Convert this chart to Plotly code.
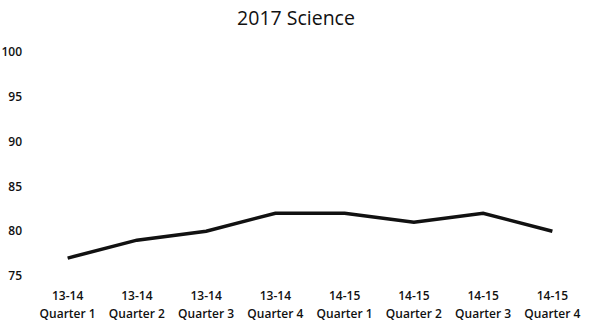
import plotly.graph_objects as go

years = ["13-14", "13-14", "13-14", "13-14", "14-15", "14-15", "14-15", "14-15"]
quarters = ["Quarter 1", "Quarter 2", "Quarter 3", "Quarter 4",
            "Quarter 1", "Quarter 2", "Quarter 3", "Quarter 4"]
scores = [77, 79, 80, 82, 82, 81, 82, 80]
y_ticks = [75, 80, 85, 90, 95, 100]

idx = list(range(len(scores)))

fig = go.Figure()
fig.add_trace(go.Scatter(x=idx, y=scores, mode="lines",
                         line=dict(color="#111111", width=3.5), showlegend=False))
# invisible companion trace so the second (quarter-label) axis is drawn
fig.add_trace(go.Scatter(x=idx, y=scores, xaxis="x2", mode="lines", opacity=0,
                         line=dict(width=0), hoverinfo="skip", showlegend=False))

tick_font = dict(size=12, family="Open Sans", color="#111111", weight=600)
common_x = dict(tickmode="array", tickvals=idx, range=[-0.5, len(scores) - 0.5],
                showgrid=False, zeroline=False, showline=False, ticks="",
                automargin=False, tickfont=tick_font)

fig.update_layout(
    width=592, height=322,
    margin=dict(l=33, r=5, t=52, b=46, autoexpand=False),
    paper_bgcolor="white", plot_bgcolor="white",
    title=dict(text="2017 Science", x=0.5, xanchor="center", y=0.945, yanchor="middle",
               font=dict(family="Open Sans", size=19.5, color="#111111")),
    font=dict(family="Open Sans", color="#111111"),
    xaxis=dict(ticktext=years, ticklabelstandoff=11, **common_x),
    xaxis2=dict(ticktext=quarters, overlaying="x", anchor="y", side="bottom",
                ticklabelstandoff=29, **common_x),
    yaxis=dict(range=[75, 100], tickvals=y_ticks, showgrid=False, zeroline=False,
               showline=False, ticks="", automargin=False,
               tickfont=dict(size=12, family="Open Sans", color="#111111", weight=600),
               ticklabelstandoff=10),
)

fig.write_html("out.html", config={"displayModeBar": False},
               post_script="document.body.style.margin='0';document.body.style.overflow='hidden';")
